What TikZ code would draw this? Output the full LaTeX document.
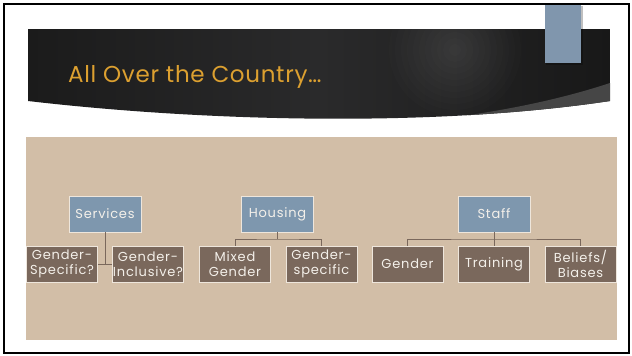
\documentclass[tikz,border=0pt]{standalone}
\usepackage{fontspec}
\setmainfont{Poppins}
\newfontfamily\boxfont[LetterSpace=6]{Poppins}
\newfontfamily\titlefont[LetterSpace=3]{Poppins}
\definecolor{beige}{HTML}{D2BEA7}
\definecolor{childc}{HTML}{7A685C}
\definecolor{parentc}{HTML}{7E97AE}
\definecolor{titlec}{HTML}{DCA030}
\definecolor{boxtext}{HTML}{F4F0EA}
\definecolor{boxborder}{HTML}{EEE6DC}
\definecolor{bannerA}{HTML}{1B1B1B}
\definecolor{bannerB}{HTML}{2A2A2B}
\definecolor{bannerC}{HTML}{181818}
\definecolor{wedgec}{HTML}{464646}
\definecolor{tabc}{HTML}{8096AD}
\begin{document}
\begin{tikzpicture}[x=1pt,y=-1pt,
  basebox/.style={draw=boxborder, line width=0.8pt, text=boxtext, inner sep=0pt,
    minimum width=71, minimum height=36, align=center,
    font=\boxfont\fontsize{13}{14.8}\selectfont},
  parentbox/.style={basebox, fill=parentc, minimum width=72},
  childbox/.style={basebox, fill=childc},
  conn/.style={draw=childc, line width=0.9pt}]
\useasboundingbox (0,0) rectangle (632,356);
\fill[white] (0,0) rectangle (632,356);
% banner
\def\bannerpath{(28,29) -- (610,29) -- (610,101) .. controls (430,128) and (200,121) .. (28,101) -- cycle}
\shade[left color=bannerA, right color=bannerC, middle color=bannerB] \bannerpath;
\begin{scope}
  \clip \bannerpath;
  \foreach \r in {6,12,...,66} {\fill[white, opacity=0.011] (455,50) circle (\r);}
  \fill[wedgec] (610,83) .. controls (540,106) and (470,116) .. (400,124) -- (640,140) -- (640,83) -- cycle;
\end{scope}
% blue tab
\fill[black, opacity=0.25] (546,6) rectangle (583,65);
\fill[tabc] (545,5) rectangle (581,63);
% title
\node[anchor=base west, inner sep=0pt, text=titlec, font=\titlefont\fontsize{23}{26}\selectfont] (title) at (68,82) {All Over the Country…};
% panel
\fill[beige] (26,137) rectangle (617,340);
% parents
\node[parentbox] (srv) at (105,214) {Services};
\node[parentbox] (hou) at (277.5,214) {Housing};
\node[parentbox] (stf) at (494,214) {Staff};
% children
\node[childbox] (gs) at (62,264) {Gender-\\Specific?};
\node[childbox] (gi) at (148,264) {Gender-\\Inclusive?};
\node[childbox] (mg) at (235,264) {Mixed\\Gender};
\node[childbox] (gsp) at (321.5,264) {Gender-\\specific};
\node[childbox] (gen) at (407.5,264) {Gender};
\node[childbox] (trn) at (494,264) {Training};
\node[childbox] (bel) at (580.5,264) {Beliefs/\\Biases};
% connectors
\coordinate (sj) at (105,264);
\draw[conn] (srv.south) -- (sj);
\draw[conn] (gs.east) -- (gi.west);
\coordinate (hj) at (277.5,239);
\draw[conn] (hou.south) -- (hj);
\draw[conn] (mg.north) |- (hj) -| (gsp.north);
\coordinate (tj) at (494,239);
\draw[conn] (stf.south) -- (trn.north);
\draw[conn] (gen.north) |- (tj) -| (bel.north);
% frame
\draw[line width=1.6pt, black] (4,4) rectangle (629,353);
\end{tikzpicture}
\end{document}
